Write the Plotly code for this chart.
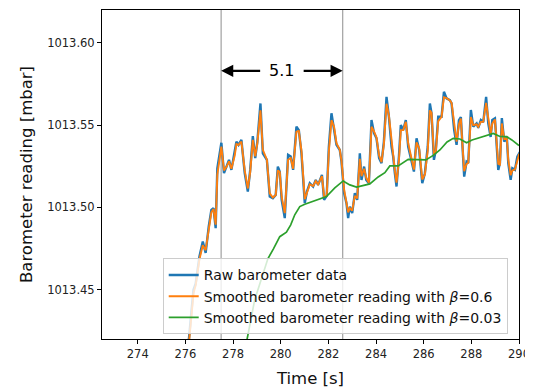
import plotly.graph_objects as go

# ---- data ----
t_raw = [275.92, 276.15, 276.26, 276.34, 276.43, 276.51, 276.59, 276.73, 276.85, 276.98,
         277.09, 277.18, 277.27, 277.34, 277.51, 277.62, 277.72, 277.83, 277.93, 278.07,
         278.14, 278.23, 278.35, 278.49, 278.62, 278.72, 278.83, 278.93, 279.02, 279.15,
         279.25, 279.42, 279.54, 279.67, 279.79, 279.88, 279.96, 280.04, 280.17, 280.31,
         280.42, 280.52, 280.66, 280.76, 280.87, 281.01, 281.10, 281.22, 281.36, 281.47,
         281.57, 281.73, 281.82, 281.93, 282.02, 282.13, 282.24, 282.34, 282.48, 282.55,
         282.66, 282.76, 282.83, 282.90, 283.00, 283.11, 283.21, 283.32, 283.39, 283.50,
         283.59, 283.70, 283.81, 283.92, 284.02, 284.13, 284.23, 284.33, 284.44, 284.54,
         284.65, 284.72, 284.79, 284.86, 284.96, 285.04, 285.14, 285.25, 285.35, 285.49,
         285.59, 285.70, 285.81, 285.94, 286.05, 286.17, 286.26, 286.33, 286.43, 286.51,
         286.61, 286.75, 286.85, 286.96, 287.10, 287.17, 287.28, 287.38, 287.48, 287.56,
         287.62, 287.70, 287.80, 287.87, 287.98, 288.08, 288.22, 288.29, 288.40, 288.50,
         288.62, 288.71, 288.81, 288.88, 288.99, 289.13, 289.20, 289.28, 289.38, 289.49,
         289.55, 289.65, 289.72, 289.83, 289.93, 290.00, 290.09]

raw = [1013.3954, 1013.4203, 1013.4379, 1013.4500, 1013.4536, 1013.4633, 1013.4702, 1013.4793, 1013.4723, 1013.4884,
       1013.4985, 1013.4996, 1013.4874, 1013.5238, 1013.5393, 1013.5208, 1013.5248, 1013.5289, 1013.5228, 1013.5329,
       1013.5400, 1013.5380, 1013.5410, 1013.5208, 1013.5096, 1013.5228, 1013.5434, 1013.5299, 1013.5400, 1013.5632,
       1013.5329, 1013.5289, 1013.5066, 1013.5056, 1013.5076, 1013.5248, 1013.5216, 1013.5046, 1013.4935, 1013.5319,
       1013.5309, 1013.5228, 1013.5491, 1013.5470, 1013.5329, 1013.5026, 1013.5096, 1013.5147, 1013.5127, 1013.5167,
       1013.5137, 1013.5198, 1013.5046, 1013.5070, 1013.5369, 1013.5572, 1013.5481, 1013.5380, 1013.5349, 1013.5278,
       1013.5087, 1013.5026, 1013.4935, 1013.5005, 1013.4965, 1013.5087, 1013.5046, 1013.5329, 1013.5167, 1013.5248,
       1013.5167, 1013.5147, 1013.5531, 1013.5450, 1013.5420, 1013.5299, 1013.5269, 1013.5400, 1013.5672, 1013.5551,
       1013.5369, 1013.5309, 1013.5208, 1013.5127, 1013.5307, 1013.5501, 1013.5470, 1013.5531, 1013.5369, 1013.5278,
       1013.5218, 1013.5420, 1013.5349, 1013.5147, 1013.5208, 1013.5369, 1013.5632, 1013.5572, 1013.5289, 1013.5349,
       1013.5551, 1013.5551, 1013.5703, 1013.5663, 1013.5652, 1013.5632, 1013.5470, 1013.5380, 1013.5531, 1013.5549,
       1013.5369, 1013.5187, 1013.5278, 1013.5270, 1013.5592, 1013.5491, 1013.5511, 1013.5483, 1013.5531, 1013.5519,
       1013.5672, 1013.5511, 1013.5428, 1013.5531, 1013.5541, 1013.5228, 1013.5270, 1013.5543, 1013.5400, 1013.5428,
       1013.5269, 1013.5167, 1013.5238, 1013.5228, 1013.5309, 1013.5329, 1013.5350]

smooth_06 = [1013.3954, 1013.4180, 1013.4350, 1013.4480, 1013.4525, 1013.4610, 1013.4685, 1013.4770, 1013.4740, 1013.4865,
             1013.4970, 1013.4990, 1013.4895, 1013.5200, 1013.5370, 1013.5225, 1013.5245, 1013.5280, 1013.5235, 1013.5315,
             1013.5385, 1013.5380, 1013.5400, 1013.5225, 1013.5115, 1013.5215, 1013.5410, 1013.5310, 1013.5390, 1013.5590,
             1013.5350, 1013.5290, 1013.5085, 1013.5060, 1013.5075, 1013.5225, 1013.5215, 1013.5065, 1013.4965, 1013.5290,
             1013.5300, 1013.5235, 1013.5460, 1013.5465, 1013.5345, 1013.5050, 1013.5090, 1013.5140, 1013.5130, 1013.5160,
             1013.5140, 1013.5190, 1013.5065, 1013.5070, 1013.5340, 1013.5530, 1013.5490, 1013.5390, 1013.5350, 1013.5285,
             1013.5110, 1013.5040, 1013.4970, 1013.4995, 1013.4980, 1013.5070, 1013.5055, 1013.5295, 1013.5190, 1013.5235,
             1013.5180, 1013.5150, 1013.5490, 1013.5460, 1013.5425, 1013.5315, 1013.5275, 1013.5385, 1013.5630, 1013.5560,
             1013.5390, 1013.5320, 1013.5225, 1013.5150, 1013.5285, 1013.5470, 1013.5470, 1013.5520, 1013.5390, 1013.5290,
             1013.5230, 1013.5395, 1013.5360, 1013.5170, 1013.5200, 1013.5345, 1013.5590, 1013.5575, 1013.5320, 1013.5340,
             1013.5525, 1013.5550, 1013.5670, 1013.5665, 1013.5650, 1013.5635, 1013.5490, 1013.5400, 1013.5505, 1013.5540,
             1013.5395, 1013.5220, 1013.5265, 1013.5270, 1013.5550, 1013.5500, 1013.5505, 1013.5490, 1013.5520, 1013.5520,
             1013.5635, 1013.5530, 1013.5445, 1013.5510, 1013.5535, 1013.5265, 1013.5260, 1013.5510, 1013.5415, 1013.5420,
             1013.5290, 1013.5195, 1013.5225, 1013.5230, 1013.5295, 1013.5320, 1013.5340]

t_slow = [278.40, 278.56, 278.91, 279.20, 279.46, 279.70, 279.96, 280.24, 280.42, 280.59,
          280.80, 281.01, 281.30, 281.64, 281.92, 282.27, 282.62, 282.90, 283.18, 283.40,
          283.74, 284.09, 284.37, 284.58, 284.93, 285.35, 285.84, 286.09, 286.40, 286.68,
          286.98, 287.24, 287.52, 287.80, 288.03, 288.57, 288.92, 289.20, 289.49, 289.70,
          290.00]
smooth_003 = [1013.4075, 1013.4177, 1013.4439, 1013.4573, 1013.4688, 1013.4749, 1013.4822, 1013.4849, 1013.4894, 1013.4955,
              1013.5005, 1013.5019, 1013.5034, 1013.5050, 1013.5066, 1013.5119, 1013.5161, 1013.5137, 1013.5123, 1013.5131,
              1013.5143, 1013.5185, 1013.5211, 1013.5252, 1013.5252, 1013.5292, 1013.5293, 1013.5289, 1013.5316, 1013.5349,
              1013.5398, 1013.5420, 1013.5416, 1013.5393, 1013.5410, 1013.5434, 1013.5450, 1013.5431, 1013.5430, 1013.5410,
              1013.5376]

window_edges = [277.5, 282.6]
window_label = "5.1"
arrow_level = 1013.583

x_ticks = [274, 276, 278, 280, 282, 284, 286, 288, 290]
y_ticks = [1013.45, 1013.50, 1013.55, 1013.60]

FONT = "DejaVu Sans"

fig = go.Figure()
fig.add_trace(go.Scatter(x=t_raw, y=raw, mode="lines", name="Raw barometer data",
                         line=dict(color="#1f77b4", width=2.4)))
fig.add_trace(go.Scatter(x=t_raw, y=smooth_06, mode="lines",
                         name="Smoothed barometer reading with <i>β</i>=0.6",
                         line=dict(color="#ff7f0e", width=1.9)))
fig.add_trace(go.Scatter(x=t_slow, y=smooth_003, mode="lines",
                         name="Smoothed barometer reading with <i>β</i>=0.03",
                         line=dict(color="#2ca02c", width=1.7)))

for xe in window_edges:
    fig.add_shape(type="line", xref="x", yref="paper", x0=xe, x1=xe, y0=0, y1=1,
                  line=dict(color="#a8a8a8", width=1.3), layer="below")

mid = 0.5 * (window_edges[0] + window_edges[1])
half_gap = 0.85
fig.add_annotation(x=window_edges[0], y=arrow_level, ax=mid - half_gap, ay=arrow_level,
                   xref="x", yref="y", axref="x", ayref="y", text="", showarrow=True,
                   arrowhead=2, arrowsize=1.1, arrowwidth=2.2, arrowcolor="black", standoff=0)
fig.add_annotation(x=window_edges[1], y=arrow_level, ax=mid + half_gap, ay=arrow_level,
                   xref="x", yref="y", axref="x", ayref="y", text="", showarrow=True,
                   arrowhead=2, arrowsize=1.1, arrowwidth=2.2, arrowcolor="black", standoff=0)
fig.add_annotation(x=mid, y=arrow_level, xref="x", yref="y", text=window_label, showarrow=False,
                   font=dict(family=FONT, size=16, color="black"))

axis_common = dict(showline=True, linecolor="black", linewidth=1, mirror=True,
                   ticks="outside", ticklen=4, tickwidth=1, tickcolor="black",
                   showgrid=False, zeroline=False, automargin=False,
                   tickfont=dict(family=FONT, size=11.5, color="#222"))

fig.update_xaxes(range=[272.5, 290], tickvals=x_ticks,
                 title=dict(text="Time [s]", font=dict(family=FONT, size=16.5, color="#111"), standoff=12),
                 **axis_common)
fig.update_yaxes(range=[1013.42, 1013.62], tickvals=y_ticks, tickformat=".2f",
                 title=dict(text="Barometer reading [mbar]", font=dict(family=FONT, size=16.5, color="#111"),
                            standoff=10),
                 **axis_common)

# the page body adds an 8px offset, so the figure is 8px smaller and shifted
fig.update_layout(
    template="none",
    width=525, height=381,
    margin=dict(l=94, r=14, t=2, b=50, autoexpand=False),
    paper_bgcolor="white", plot_bgcolor="white",
    showlegend=True,
    legend=dict(x=0.1456, y=0.245, xanchor="left", yanchor="top",
                bgcolor="rgba(255,255,255,0.8)", bordercolor="#cccccc", borderwidth=1,
                font=dict(family=FONT, size=14, color="#111"), itemwidth=30),
    font=dict(family=FONT),
)

fig.write_html("out.html")
